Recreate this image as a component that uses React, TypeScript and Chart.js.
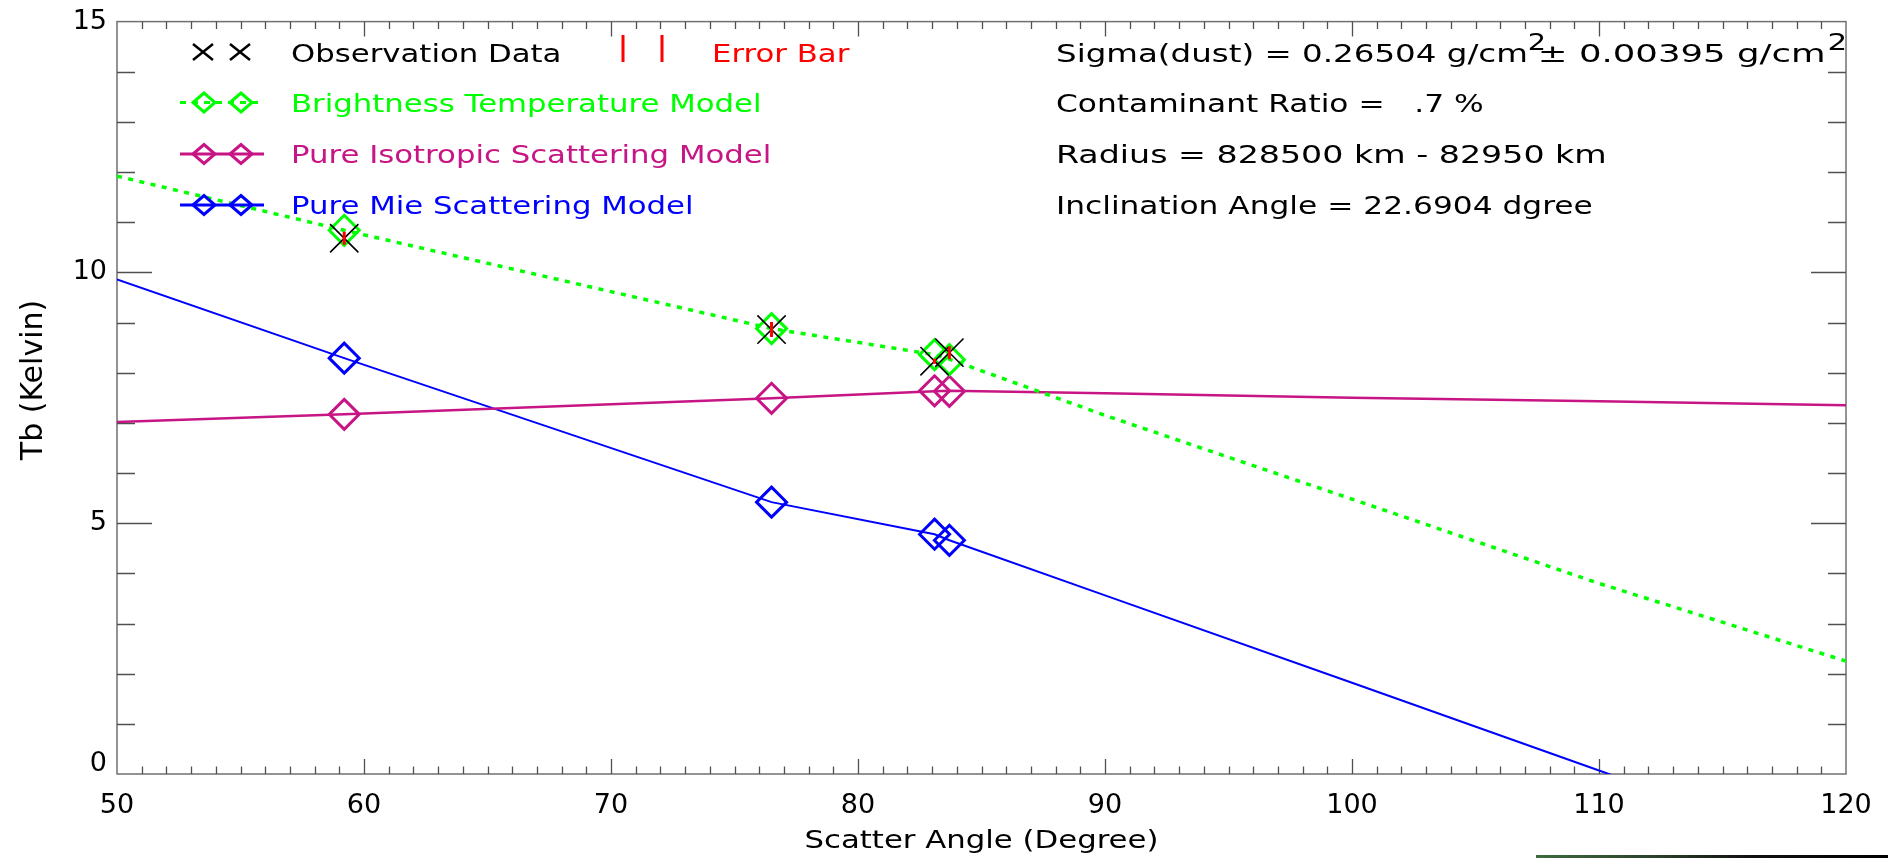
import React, { useEffect, useRef } from 'react';
import { Chart, registerables } from 'chart.js';

Chart.register(...registerables);

// ---- observation data ----
const obsAngles = [59.2, 76.5, 83.1, 83.7];
const obsTb = [10.68, 8.86, 8.23, 8.40];
const obsErr = [0.13, 0.15, 0.05, 0.13];

// ---- model values at the observation angles ----
const btModelTb = [10.84, 8.88, 8.36, 8.26];
const isoModelTb = [7.17, 7.49, 7.64, 7.63];
const mieModelTb = [8.29, 5.42, 4.78, 4.66];

// ---- model curves ----
const curveAngles = [50, 59.2, 76.5, 83.1, 83.7, 90, 100, 110, 120];
const btCurve = [11.92, 10.84, 8.88, 8.36, 8.27, 7.15, 5.48, 3.8, 2.25];
const isoCurve = [7.02, 7.17, 7.49, 7.63, 7.64, 7.59, 7.5, 7.43, 7.35];
const mieCurve = [9.86, 8.29, 5.42, 4.78, 4.66, 3.56, 1.82, 0.07, -1.68];

// ---- axes ----
const xMin = 50, xMax = 120, xMajor = 10, xMinor = 1;
const yMin = 0, yMax = 15, yMajor = 5, yMinor = 1;
const xTitle = 'Scatter Angle (Degree)';
const yTitle = 'Tb (Kelvin)';

// ---- legend / annotation texts ----
const legendLabels = ['Observation Data', 'Brightness Temperature Model', 'Pure Isotropic Scattering Model', 'Pure Mie Scattering Model'];
const errorLabel = 'Error Bar';
const sigmaText = ['Sigma(dust) = 0.26504 g/cm', '± 0.00395 g/cm'];
const infoLines = ['Contaminant Ratio =   .7 %', 'Radius = 828500 km - 82950 km', 'Inclination Angle = 22.6904 dgree'];

const GREEN = '#00ff00';
const MAGENTA = '#c71585';
const BLUE = '#0000ff';
const RED = '#ff0000';
const FONT = 'DejaVu Sans';

const pts = (xs: number[], ys: number[]) => xs.map((x, i) => ({ x, y: ys[i] }));

function stretchedText(ctx: CanvasRenderingContext2D, text: string, x: number, y: number, sx: number) {
  ctx.save();
  ctx.translate(x, y);
  ctx.scale(sx, 1);
  ctx.fillText(text, 0, 0);
  const w = ctx.measureText(text).width * sx;
  ctx.restore();
  return w;
}

function diamond(ctx: CanvasRenderingContext2D, cx: number, cy: number, hw: number, hh: number) {
  ctx.beginPath();
  ctx.moveTo(cx - hw, cy);
  ctx.lineTo(cx, cy - hh);
  ctx.lineTo(cx + hw, cy);
  ctx.lineTo(cx, cy + hh);
  ctx.closePath();
  ctx.stroke();
}

const idlPlugin = {
  id: 'idlFrame',
  beforeDatasetsDraw(chart: any) {
    const ctx: CanvasRenderingContext2D = chart.ctx;
    const { left, right, top, bottom } = chart.chartArea;
    const xs = chart.scales.x;
    const ys = chart.scales.y;
    ctx.save();
    ctx.strokeStyle = '#707070';
    ctx.lineWidth = 1.5;
    ctx.strokeRect(left, top, right - left, bottom - top);
    ctx.strokeStyle = '#505050';
    ctx.lineWidth = 1.3;
    ctx.beginPath();
    for (let v = xMin + xMinor; v < xMax; v += xMinor) {
      const p = Math.round(xs.getPixelForValue(v)) + 0.5;
      const len = Math.abs(v % xMajor) < 1e-6 ? 15 : 7.5;
      ctx.moveTo(p, bottom);
      ctx.lineTo(p, bottom - len);
      ctx.moveTo(p, top);
      ctx.lineTo(p, top + len);
    }
    for (let v = yMin + yMinor; v < yMax; v += yMinor) {
      const p = Math.round(ys.getPixelForValue(v)) + 0.5;
      const len = Math.abs(v % yMajor) < 1e-6 ? 35 : 18;
      ctx.moveTo(left, p);
      ctx.lineTo(left + len, p);
      ctx.moveTo(right, p);
      ctx.lineTo(right - len, p);
    }
    ctx.stroke();
    ctx.restore();
  },
  afterDatasetsDraw(chart: any) {
    const ctx: CanvasRenderingContext2D = chart.ctx;
    const xs = chart.scales.x;
    const ys = chart.scales.y;
    ctx.save();
    ctx.strokeStyle = RED;
    ctx.lineWidth = 3;
    ctx.beginPath();
    obsAngles.forEach((a, i) => {
      const px = xs.getPixelForValue(a);
      ctx.moveTo(px, ys.getPixelForValue(obsTb[i] - obsErr[i]));
      ctx.lineTo(px, ys.getPixelForValue(obsTb[i] + obsErr[i]));
    });
    ctx.stroke();
    ctx.restore();
  },
  afterDraw(chart: any) {
    const ctx: CanvasRenderingContext2D = chart.ctx;
    const { left, right } = chart.chartArea;
    ctx.save();
    ctx.textBaseline = 'alphabetic';
    ctx.textAlign = 'left';

    // axis titles
    ctx.fillStyle = '#000';
    ctx.font = `25px "${FONT}"`;
    const tw = ctx.measureText(xTitle).width * 1.23;
    stretchedText(ctx, xTitle, (left + right) / 2 - tw / 2, 848, 1.23);
    ctx.save();
    ctx.font = `30px "${FONT}"`;
    ctx.translate(42, 380);
    ctx.rotate(-Math.PI / 2);
    ctx.textAlign = 'center';
    ctx.fillText(yTitle, 0, 0);
    ctx.restore();

    // legend
    const sxL = 1.23;
    const tx = 291;
    const base = [62, 112, 163, 214];
    const mid = [52, 102.5, 154, 205];
    ctx.font = `25px "${FONT}"`;

    // row 1: observation crosses + error bars
    ctx.strokeStyle = '#000';
    ctx.lineWidth = 2.5;
    ctx.beginPath();
    [203, 240].forEach((cx) => {
      ctx.moveTo(cx - 10, mid[0] - 8);
      ctx.lineTo(cx + 10, mid[0] + 8);
      ctx.moveTo(cx + 10, mid[0] - 8);
      ctx.lineTo(cx - 10, mid[0] + 8);
    });
    ctx.stroke();
    ctx.fillStyle = '#000';
    stretchedText(ctx, legendLabels[0], tx, base[0], sxL);
    ctx.strokeStyle = RED;
    ctx.lineWidth = 3;
    ctx.beginPath();
    [623, 662].forEach((cx) => {
      ctx.moveTo(cx, 35);
      ctx.lineTo(cx, 62);
    });
    ctx.stroke();
    ctx.fillStyle = RED;
    stretchedText(ctx, errorLabel, 712, base[0], sxL);

    // rows 2-4: model lines
    const rows = [
      { color: GREEN, dash: [6, 6], end: 258 },
      { color: MAGENTA, dash: [], end: 264 },
      { color: BLUE, dash: [], end: 264 },
    ];
    rows.forEach((r, k) => {
      const i = k + 1;
      ctx.strokeStyle = r.color;
      ctx.lineWidth = 3;
      ctx.setLineDash(r.dash);
      ctx.beginPath();
      ctx.moveTo(180, mid[i]);
      ctx.lineTo(r.end, mid[i]);
      ctx.stroke();
      ctx.setLineDash([]);
      diamond(ctx, 204, mid[i], 11, 9.5);
      diamond(ctx, 241, mid[i], 11, 9.5);
      ctx.fillStyle = r.color;
      stretchedText(ctx, legendLabels[i], tx, base[i], sxL);
    });

    // right annotations
    const rx = 1056;
    ctx.fillStyle = '#000';
    ctx.font = `25px "${FONT}"`;
    let x = rx + stretchedText(ctx, sigmaText[0], rx, base[0], 1.3);
    ctx.font = `23px "${FONT}"`;
    stretchedText(ctx, '2', x, base[0] - 12, 1.25);
    ctx.font = `25px "${FONT}"`;
    x = x + 10;
    x = x + stretchedText(ctx, sigmaText[1], x, base[0], 1.42);
    ctx.font = `23px "${FONT}"`;
    stretchedText(ctx, '2', x + 2, base[0] - 12, 1.35);
    ctx.font = `25px "${FONT}"`;
    stretchedText(ctx, infoLines[0], rx, base[1], 1.25);
    stretchedText(ctx, infoLines[1], rx, base[2], 1.33);
    stretchedText(ctx, infoLines[2], rx, base[3], 1.25);
    ctx.restore();
  },
};

export default function App() {
  const ref = useRef<HTMLCanvasElement>(null);
  useEffect(() => {
    const canvas = ref.current;
    if (!canvas) return;
    const diamondSet = (data: number[], color: string) => ({
      type: 'line' as const,
      data: pts(obsAngles, data),
      showLine: false,
      pointStyle: 'rectRot' as const,
      pointRadius: 15,
      pointBorderWidth: 3,
      pointBorderColor: color,
      pointBackgroundColor: 'rgba(0,0,0,0)',
      borderColor: color,
    });
    const curveSet = (data: number[], color: string, width: number, dash: number[]) => ({
      type: 'line' as const,
      data: pts(curveAngles, data),
      borderColor: color,
      borderWidth: width,
      borderDash: dash,
      pointRadius: 0,
      tension: 0,
      fill: false,
    });
    const chart = new Chart(canvas, {
      type: 'line',
      data: {
        datasets: [
          {
            type: 'line',
            data: pts(obsAngles, obsTb),
            showLine: false,
            pointStyle: 'crossRot',
            pointRadius: 20,
            pointBorderWidth: 1.6,
            pointBorderColor: '#000',
            borderColor: '#000',
          } as any,
          diamondSet(btModelTb, GREEN),
          diamondSet(isoModelTb, MAGENTA),
          diamondSet(mieModelTb, BLUE),
          curveSet(btCurve, GREEN, 3.5, [5, 6.5]),
          curveSet(isoCurve, MAGENTA, 2.5, []),
          curveSet(mieCurve, BLUE, 2, []),
        ],
      },
      options: {
        animation: false,
        responsive: false,
        devicePixelRatio: 1,
        events: [],
        layout: { padding: { left: 0, top: 10, right: 49, bottom: 0 } },
        plugins: { legend: { display: false }, tooltip: { enabled: false } },
        scales: {
          x: {
            type: 'linear',
            position: 'bottom',
            min: xMin,
            max: xMax,
            afterFit: (s: any) => {
              s.height = 84;
              s.paddingLeft = 0;
              s.paddingRight = 0;
            },
            grid: { display: false, drawTicks: false },
            border: { display: false },
            ticks: {
              stepSize: xMajor,
              padding: 16,
              color: '#000',
              maxRotation: 0,
              autoSkip: false,
              font: { family: FONT, size: 27 },
            },
          },
          y: {
            type: 'linear',
            position: 'left',
            min: yMin,
            max: yMax,
            afterFit: (s: any) => {
              s.width = 117;
              s.paddingTop = 0;
              s.paddingBottom = 0;
            },
            grid: { display: false, drawTicks: false },
            border: { display: false },
            ticks: {
              stepSize: yMajor,
              padding: 10,
              color: '#000',
              font: { family: FONT, size: 27, lineHeight: 0.75 },
              // keep the bottom label inside the axis range, as in the original
              callback: (v: any) => (v === yMin ? [String(v), ''] : String(v)),
            },
          },
        },
      } as any,
      plugins: [idlPlugin],
    });
    return () => chart.destroy();
  }, []);

  return (
    <div style={{ position: 'fixed', left: 0, top: 0, width: 1895, height: 858, background: '#fff', overflow: 'hidden' }}>
      <canvas ref={ref} width={1895} height={858} style={{ display: 'block', width: 1895, height: 858 }} />
      <div
        style={{
          position: 'absolute',
          left: 1536,
          top: 855,
          width: 352,
          height: 3,
          background: 'linear-gradient(90deg, #3d6b3d 0%, #2a3f2a 35%, #111 60%, #000 100%)',
        }}
      />
    </div>
  );
}
